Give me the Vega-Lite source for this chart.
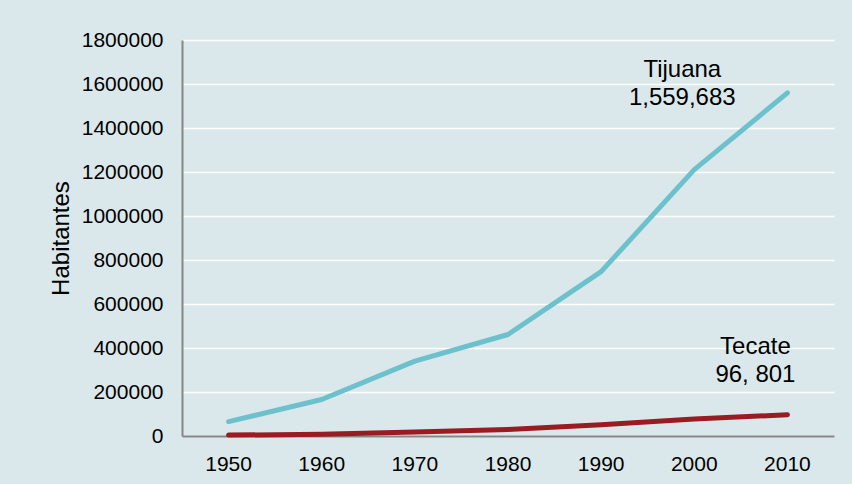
{
  "$schema": "https://vega.github.io/schema/vega-lite/v6.json",
  "autosize": {"type": "none"},
  "padding": {"left": 182, "top": 40, "right": 18, "bottom": 48},
  "width": 652,
  "height": 396,
  "background": "#DAE8EB",
  "config": {
    "view": {"stroke": null},
    "font": "Liberation Sans",
    "axis": {"labelFont": "Liberation Sans", "titleFont": "Liberation Sans", "labelColor": "#000000", "titleColor": "#000000"}
  },
  "datasets": {
    "pop": [
      {"year": "1950", "city": "Tijuana", "pop": 65364},
      {"year": "1960", "city": "Tijuana", "pop": 165690},
      {"year": "1970", "city": "Tijuana", "pop": 340583},
      {"year": "1980", "city": "Tijuana", "pop": 461257},
      {"year": "1990", "city": "Tijuana", "pop": 747381},
      {"year": "2000", "city": "Tijuana", "pop": 1210820},
      {"year": "2010", "city": "Tijuana", "pop": 1559683},
      {"year": "1950", "city": "Tecate", "pop": 4000},
      {"year": "1960", "city": "Tecate", "pop": 8000},
      {"year": "1970", "city": "Tecate", "pop": 18000},
      {"year": "1980", "city": "Tecate", "pop": 30000},
      {"year": "1990", "city": "Tecate", "pop": 51000},
      {"year": "2000", "city": "Tecate", "pop": 77000},
      {"year": "2010", "city": "Tecate", "pop": 96801}
    ],
    "labels": [
      {"city": "Tijuana", "year": "2000", "pos": 1663636, "text": "Tijuana"},
      {"city": "Tijuana", "year": "2000", "pos": 1536364, "text": "1,559,683"},
      {"city": "Tecate", "year": "2010", "pos": 404545, "text": "Tecate"},
      {"city": "Tecate", "year": "2010", "pos": 277273, "text": "96, 801"}
    ]
  },
  "layer": [
    {
      "data": {"name": "pop"},
      "mark": {"type": "line", "strokeWidth": 5, "strokeCap": "round", "strokeJoin": "round"},
      "encoding": {
        "x": {
          "field": "year", "type": "ordinal", "title": null,
          "scale": {"type": "band", "paddingInner": 0, "paddingOuter": 0},
          "axis": {"ticks": false, "labelAngle": 0, "labelFontSize": 21, "labelPadding": 17, "domainColor": "#868686", "domainWidth": 2, "grid": false}
        },
        "y": {
          "field": "pop", "type": "quantitative", "title": "Habitantes",
          "scale": {"domain": [0, 1800000], "nice": false},
          "axis": {"values": [0, 200000, 400000, 600000, 800000, 1000000, 1200000, 1400000, 1600000, 1800000], "format": "d", "ticks": false, "labelFontSize": 21, "labelPadding": 19, "domainColor": "#868686", "domainWidth": 2, "gridColor": "#FFFFFF", "gridWidth": 1.5, "gridOpacity": 1, "titleFontSize": 24, "titleFontWeight": "normal", "titlePadding": 8}
        },
        "color": {
          "field": "city", "type": "nominal",
          "scale": {"domain": ["Tijuana", "Tecate"], "range": ["#6DC1CD", "#9A1B21"]},
          "legend": null
        }
      }
    },
    {
      "data": {"name": "labels"},
      "transform": [{"filter": "datum.city === 'Tijuana'"}],
      "mark": {"type": "text", "fontSize": 24, "align": "center", "baseline": "middle", "dx": -12, "color": "#000000"},
      "encoding": {
        "x": {"field": "year", "type": "ordinal"},
        "y": {"field": "pos", "type": "quantitative"},
        "text": {"field": "text"}
      }
    },
    {
      "data": {"name": "labels"},
      "transform": [{"filter": "datum.city === 'Tecate'"}],
      "mark": {"type": "text", "fontSize": 24, "align": "center", "baseline": "middle", "dx": -32, "color": "#000000"},
      "encoding": {
        "x": {"field": "year", "type": "ordinal"},
        "y": {"field": "pos", "type": "quantitative"},
        "text": {"field": "text"}
      }
    }
  ]
}
